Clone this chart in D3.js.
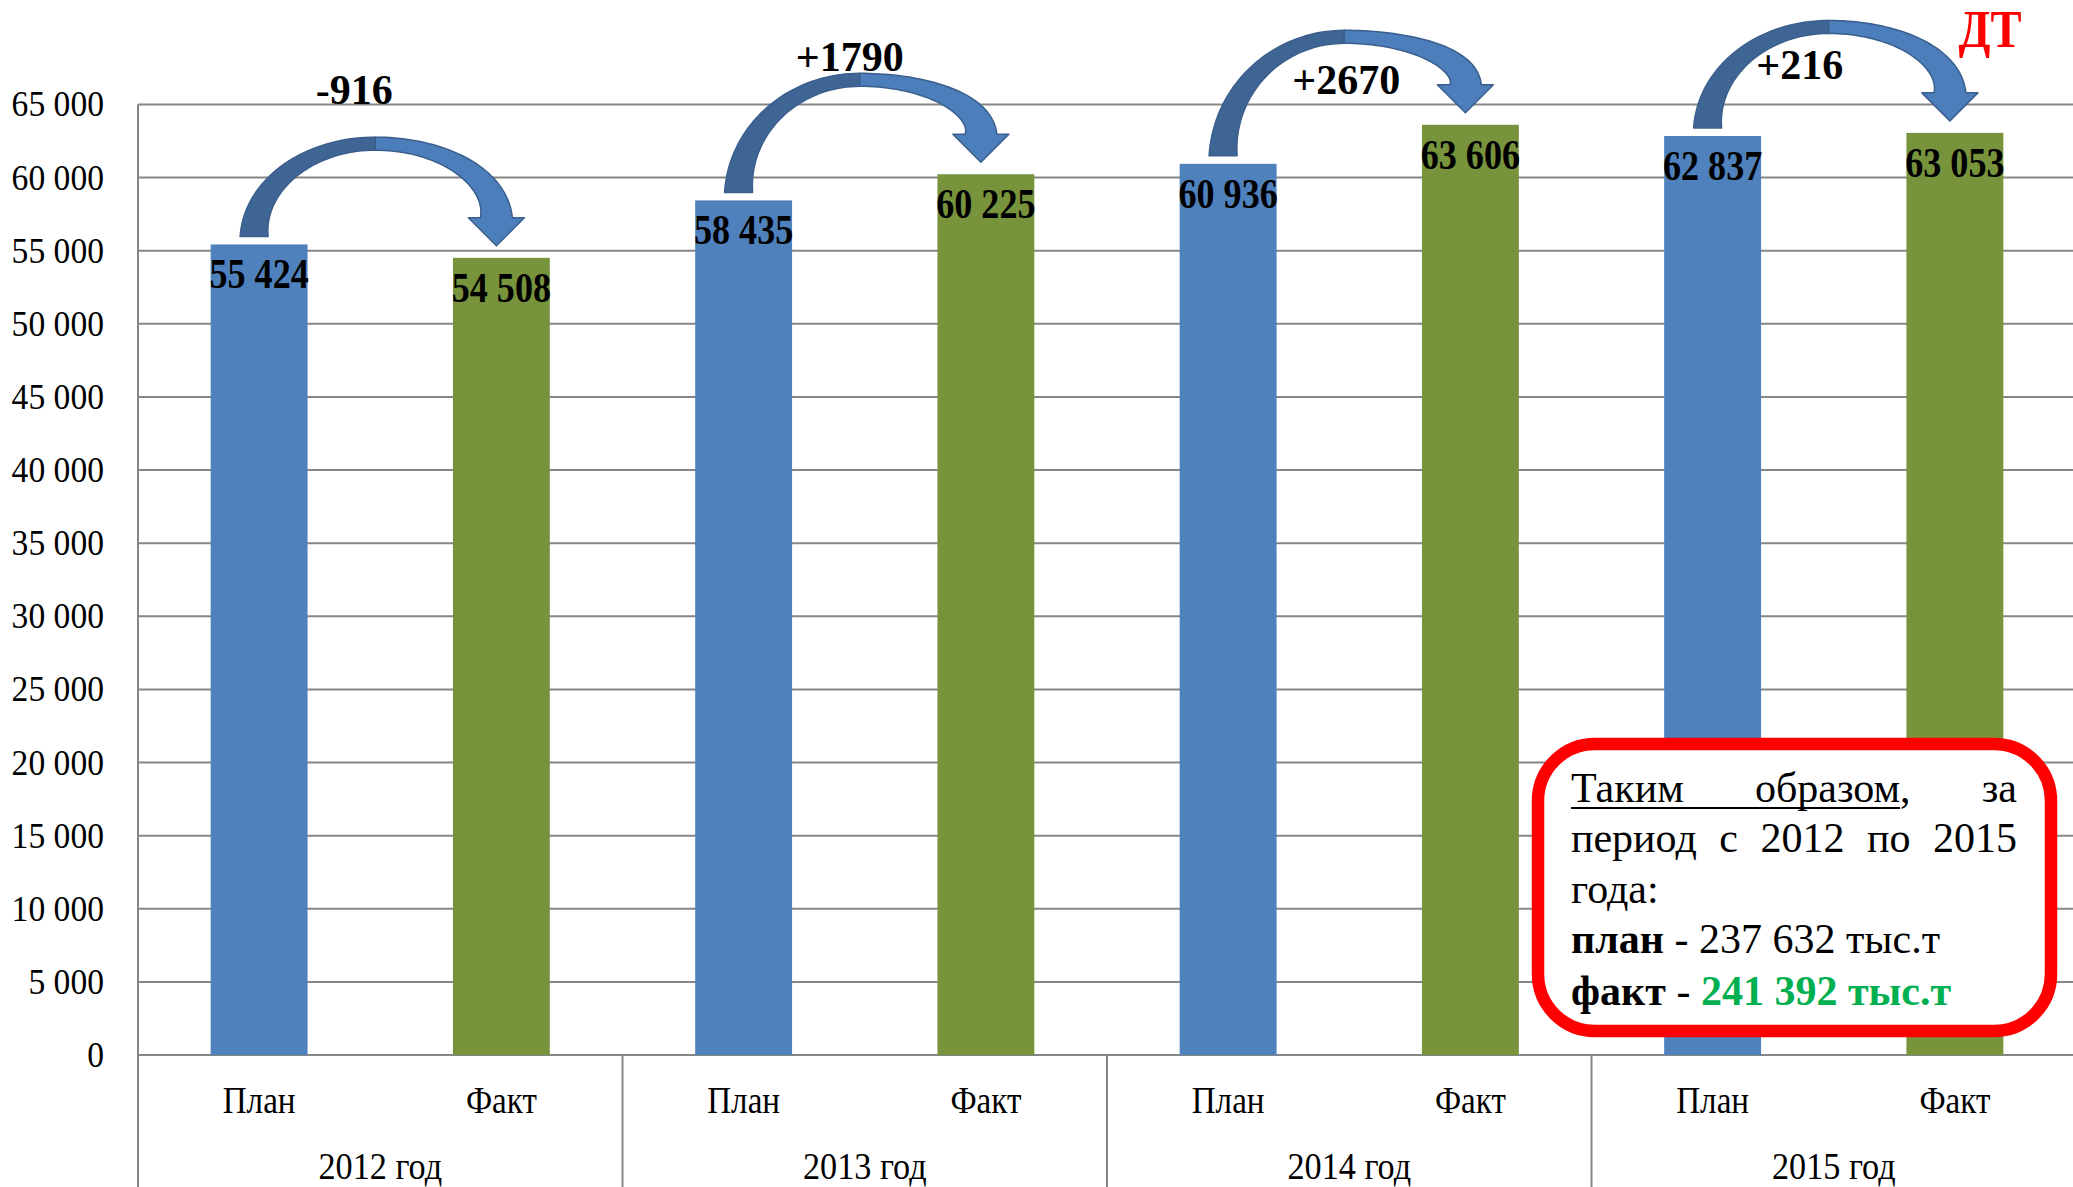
<!DOCTYPE html>
<html><head><meta charset="utf-8">
<script src="https://cdn.jsdelivr.net/npm/d3@7/dist/d3.min.js"></script>
<style>
body{margin:0;background:#fff;}
svg{display:block;font-family:"Liberation Serif","Times New Roman",serif;}
</style>
</head><body>
<svg id="chart" width="2073" height="1187"></svg>
<script>
// ---------- data ----------
const years = ["2012 год", "2013 год", "2014 год", "2015 год"];
const kinds = ["План", "Факт"];
const planValues = [55424, 58435, 60936, 62837];
const factValues = [54508, 60225, 63606, 63053];
const diffLabels = ["-916", "+1790", "+2670", "+216"];
const yTickValues = [0, 5000, 10000, 15000, 20000, 25000, 30000, 35000, 40000, 45000, 50000, 55000, 60000, 65000];
const noteLine1 = ["Таким", "образом,", "за"];
const noteLine2 = ["период", "с", "2012", "по", "2015"];
const noteLine3 = "года:";
const notePlanLabel = "план";
const notePlanValue = "237 632 тыс.т";
const noteFactLabel = "факт";
const noteFactValue = "241 392 тыс.т";
const cornerLabel = "ДТ";

// ---------- layout ----------
(function () {
const W = 2073, H = 1187;
const pLeft = 138, pRight = 2076, pTop = 104.4, pBottom = 1055;
const svg = d3.select("#chart");

const cats = [];
years.forEach((yr, i) => {
  cats.push({key: yr + "|" + kinds[0], year: yr, kind: kinds[0], value: planValues[i], idx: i});
  cats.push({key: yr + "|" + kinds[1], year: yr, kind: kinds[1], value: factValues[i], idx: i});
});

const x = d3.scaleBand().domain(cats.map(d => d.key)).range([pLeft, pRight])
  .paddingInner(0.6).paddingOuter(0.3);
const xYear = d3.scaleBand().domain(years).range([pLeft, pRight]).padding(0);
const y = d3.scaleLinear().domain([0, 65000]).range([pBottom, pTop]);

const fmt = v => d3.format(",")(v).replace(/,/g, " ");
const gridColor = "#868686";

// gridlines
svg.append("g").selectAll("line").data(yTickValues).join("line")
  .attr("x1", pLeft).attr("x2", W).attr("y1", d => y(d)).attr("y2", d => y(d))
  .attr("stroke", gridColor).attr("stroke-width", 2);

// y axis line (extends to bottom)
svg.append("line").attr("x1", pLeft).attr("x2", pLeft).attr("y1", pTop).attr("y2", H)
  .attr("stroke", gridColor).attr("stroke-width", 2);

// y tick labels
svg.append("g").selectAll("text").data(yTickValues).join("text")
  .attr("transform", d => `translate(104,${y(d) + 12}) scale(0.96,1.05)`)
  .attr("text-anchor", "end").attr("font-size", 35).attr("fill", "#000")
  .text(d => fmt(d));

// year separators
svg.append("g").selectAll("line").data(years.slice(1)).join("line")
  .attr("x1", d => xYear(d)).attr("x2", d => xYear(d))
  .attr("y1", pBottom).attr("y2", H)
  .attr("stroke", gridColor).attr("stroke-width", 2);

// bars
svg.append("g").selectAll("rect").data(cats).join("rect")
  .attr("x", d => x(d.key)).attr("width", x.bandwidth())
  .attr("y", d => y(d.value)).attr("height", d => pBottom - y(d.value))
  .attr("fill", d => d.kind === kinds[0] ? "#4f81bd" : "#77933c");

// data labels (bold, slightly condensed)
svg.append("g").selectAll("text").data(cats).join("text")
  .attr("transform", d => `translate(${x(d.key) + x.bandwidth() / 2},${y(d.value) + 44}) scale(0.86,1)`)
  .attr("text-anchor", "middle").attr("font-size", 42).attr("font-weight", "bold")
  .attr("fill", "#000").text(d => fmt(d.value));

// category labels
svg.append("g").selectAll("text").data(cats).join("text")
  .attr("transform", d => `translate(${x(d.key) + x.bandwidth() / 2},1113) scale(0.92,1.08)`)
  .attr("text-anchor", "middle").attr("font-size", 36).attr("fill", "#000")
  .text(d => d.kind);
svg.append("g").selectAll("text").data(years).join("text")
  .attr("transform", d => `translate(${xYear(d) + xYear.bandwidth() / 2},1179) scale(0.95,1.05)`)
  .attr("text-anchor", "middle").attr("font-size", 36).attr("fill", "#000")
  .text(d => d);

// ---------- curved arrows ----------
const arrowLabelOffsets = [[-21, -33], [-10, -2], [2, 64], [-29, 59]];
const arrowsG = svg.append("g");
years.forEach((yr, i) => {
  const pk = yr + "|" + kinds[0], fk = yr + "|" + kinds[1];
  const tailX = x(pk) + x.bandwidth() / 2 - 5;
  const tailY = y(planValues[i]) - 8;
  const tipX = x(fk) + x.bandwidth() / 2 - 5;
  const tipY = y(factValues[i]) - 12;
  const baseY = tipY - 28;
  const peakOuter = (tailY + baseY) / 2 - 90;
  const wTail = 28, wHead = 32, wMid = 13;
  const pc = peakOuter + wMid / 2;
  const xm = (tailX + tipX) / 2;
  const N = 40;
  const leftPts = [], rightPts = [];
  for (let k = 0; k <= N; k++) {
    const phi = (k / N) * Math.PI / 2;
    const rx = xm - tailX, ry = tailY - pc;
    const px = xm - rx * Math.cos(phi), py = tailY - ry * Math.sin(phi);
    let nx = -Math.cos(phi) / rx, ny = -Math.sin(phi) / ry;
    const nl = Math.hypot(nx, ny); nx /= nl; ny /= nl;
    const w = wTail - (wTail - wMid) * Math.sin(phi);
    leftPts.push({o: [px + nx * w / 2, py + ny * w / 2], in: [px - nx * w / 2, py - ny * w / 2]});
  }
  for (let k = 0; k <= N; k++) {
    const phi = Math.PI / 2 - (k / N) * Math.PI / 2;
    const rx = tipX - xm, ry = baseY - pc;
    const px = xm + rx * Math.cos(phi), py = baseY - ry * Math.sin(phi);
    let nx = Math.cos(phi) / rx, ny = -Math.sin(phi) / ry;
    const nl = Math.hypot(nx, ny); nx /= nl; ny /= nl;
    const w = wHead - (wHead - wMid) * Math.sin(phi);
    rightPts.push({o: [px + nx * w / 2, py + ny * w / 2], in: [px - nx * w / 2, py - ny * w / 2]});
  }
  const line = d3.line();
  const darkPoly = leftPts.map(p => p.o).concat(leftPts.slice().reverse().map(p => p.in));
  const headHalf = 28;
  const lightPoly = rightPts.map(p => p.o)
    .concat([[tipX + headHalf, baseY], [tipX, tipY], [tipX - headHalf, baseY]])
    .concat(rightPts.slice().reverse().map(p => p.in));
  arrowsG.append("path").attr("d", line(darkPoly) + "Z")
    .attr("fill", "#3e6594").attr("stroke", "#3a5f8c").attr("stroke-width", 1.5).attr("stroke-linejoin", "round");
  arrowsG.append("path").attr("d", line(lightPoly) + "Z")
    .attr("fill", "#4b7ebb").attr("stroke", "#3a5f8c").attr("stroke-width", 1.5).attr("stroke-linejoin", "round");
  const off = arrowLabelOffsets[i];
  arrowsG.append("text").attr("x", xm + off[0]).attr("y", peakOuter + off[1])
    .attr("text-anchor", "middle").attr("font-size", 42).attr("font-weight", "bold")
    .attr("fill", "#000").text(diffLabels[i]);
});

// corner label
svg.append("text").attr("transform", "translate(1990,47) scale(0.93,1.05)")
  .attr("text-anchor", "middle").attr("font-size", 50).attr("font-weight", "bold")
  .attr("fill", "#ff0000").text(cornerLabel);

// ---------- summary box ----------
const box = svg.append("g");
box.append("rect").attr("x", 1538).attr("y", 744).attr("width", 513).attr("height", 287)
  .attr("rx", 57).attr("ry", 57).attr("fill", "#fff").attr("stroke", "#ff0000").attr("stroke-width", 12.5);
const tx0 = 1571, tx1 = 2017, fs = 42;
function justify(words, yy) {
  const nodes = words.map(w => box.append("text").attr("y", yy).attr("font-size", fs).attr("fill", "#000").text(w));
  const widths = nodes.map(n => n.node().getComputedTextLength());
  const gap = (tx1 - tx0 - d3.sum(widths)) / (words.length - 1);
  let cx = tx0;
  const xs = [];
  nodes.forEach((n, k) => { n.attr("x", cx); xs.push(cx); cx += widths[k] + gap; });
  return {xs, widths, nodes};
}
const l1 = justify(noteLine1, 802);
const tmp = box.append("text").attr("font-size", fs).text(noteLine1[1].replace(",", ""));
const wOb = tmp.node().getComputedTextLength(); tmp.remove();
box.append("line").attr("x1", l1.xs[0]).attr("x2", l1.xs[1] + wOb)
  .attr("y1", 808).attr("y2", 808).attr("stroke", "#000").attr("stroke-width", 2);
justify(noteLine2, 852);
box.append("text").attr("x", tx0).attr("y", 903).attr("font-size", fs).attr("fill", "#000").text(noteLine3);
const t4 = box.append("text").attr("x", tx0).attr("y", 953).attr("font-size", fs).attr("fill", "#000");
t4.append("tspan").attr("font-weight", "bold").text(notePlanLabel);
t4.append("tspan").text(" - " + notePlanValue);
const t5 = box.append("text").attr("x", tx0).attr("y", 1005).attr("font-size", fs).attr("fill", "#000");
t5.append("tspan").attr("font-weight", "bold").text(noteFactLabel);
t5.append("tspan").text(" - ");
t5.append("tspan").attr("font-weight", "bold").attr("fill", "#00b050").text(noteFactValue);
})();
</script>
</body></html>
